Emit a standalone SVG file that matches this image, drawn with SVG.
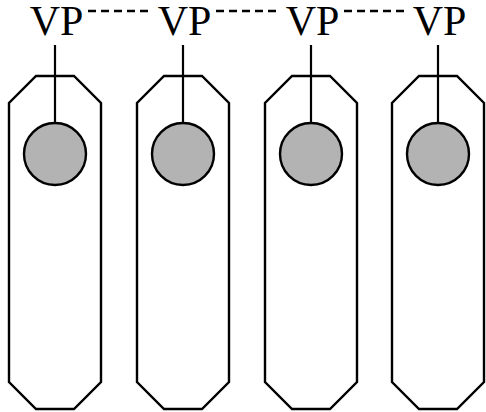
<svg xmlns="http://www.w3.org/2000/svg" width="486" height="412" viewBox="0 0 486 412">
<style>
.cell{fill:#fff;stroke:#000;stroke-width:2.4}
.nuc{fill:#b3b3b3;stroke:#000;stroke-width:2.4}
.stem{stroke:#000;stroke-width:2.2}
.dash{stroke:#000;stroke-width:2.6;stroke-dasharray:8 5}
.lbl{font-family:"Liberation Serif","Times New Roman",serif;font-size:42px;text-anchor:middle;fill:#000}
</style>
<defs>
<polygon id="shape" points="-19,0 19,0 46,27 46,306 19,333 -19,333 -46,306 -46,27"/>
</defs>
<g id="connectors">
<line class="dash" x1="88" y1="11" x2="151" y2="11"/>
<line class="dash" x1="216" y1="11" x2="279" y2="11"/>
<line class="dash" x1="344" y1="11" x2="407" y2="11"/>
</g>
<g id="cell1">
<use href="#shape" class="cell" x="55" y="76"/>
<line class="stem" x1="55" y1="45" x2="55" y2="123"/>
<circle class="nuc" cx="55" cy="154" r="31"/>
<text class="lbl" x="56.5" y="35">VP</text>
</g>
<g id="cell2">
<use href="#shape" class="cell" x="183" y="76"/>
<line class="stem" x1="183" y1="45" x2="183" y2="123"/>
<circle class="nuc" cx="183" cy="154" r="31"/>
<text class="lbl" x="184.5" y="35">VP</text>
</g>
<g id="cell3">
<use href="#shape" class="cell" x="311" y="76"/>
<line class="stem" x1="311" y1="45" x2="311" y2="123"/>
<circle class="nuc" cx="311" cy="154" r="31"/>
<text class="lbl" x="312.5" y="35">VP</text>
</g>
<g id="cell4">
<use href="#shape" class="cell" x="438" y="76"/>
<line class="stem" x1="438" y1="45" x2="438" y2="123"/>
<circle class="nuc" cx="438" cy="154" r="31"/>
<text class="lbl" x="439.5" y="35">VP</text>
</g>
</svg>
